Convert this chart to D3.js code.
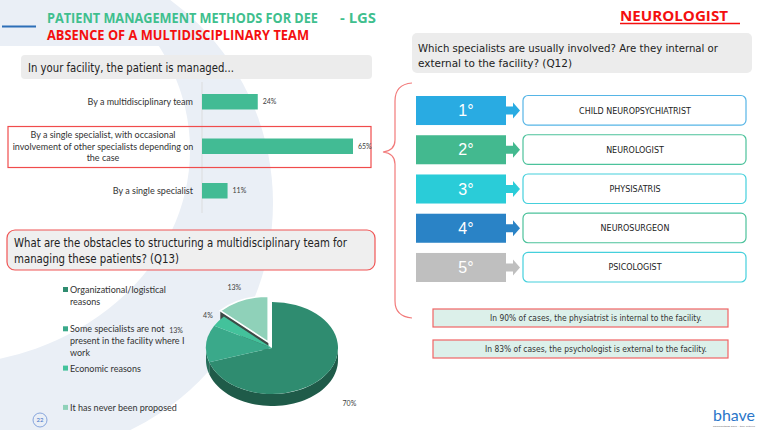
<!DOCTYPE html>
<html>
<head>
<meta charset="utf-8">
<script src="https://cdn.jsdelivr.net/npm/d3@7"></script>
<style>
  body { margin: 0; background: #fff; }
  svg { display: block; }
</style>
</head>
<body>
<svg id="chart" width="757" height="434"></svg>
<script>
// ---- data ----
const barCategories = [
  ["By a multidisciplinary team"],
  ["By a single specialist, with occasional", "involvement of other specialists depending on", "the case"],
  ["By a single specialist"]
];
const barValues = [0.24, 0.65, 0.11];

const pieCategories = [
  ["Organizational/logistical", "reasons"],
  ["Some specialists are not", "present in the facility where I", "work"],
  ["Economic reasons"],
  ["It has never been proposed"]
];
const pieValues = [0.70, 0.13, 0.04, 0.13];

const rankLabels = ["1°", "2°", "3°", "4°", "5°"];
const specialists = ["CHILD NEUROPSYCHIATRIST", "NEUROLOGIST", "PHYSISATRIS", "NEUROSURGEON", "PSICOLOGIST"];

const notes = [
  "In 90% of cases, the physiatrist is internal to the facility.",
  "In 83% of cases, the psychologist is external to the facility."
];

// ---- colours ----
const barColor = "#42bb94";
const pieColors = ["#2f8c70", "#3aa98a", "#43c29b", "#8fd1b9"];
const rankFill = ["#29abe2", "#43b98f", "#2accd8", "#2a83c6", "#bfbfbf"];
const rankStroke = ["#56b5e6", "#4cc29b", "#45d0dc", "#4cc29b", "#45d0dc"];

const svg = d3.select("#chart");
const qFont = "'DejaVu Sans', sans-serif";
const bodyFont = "Lato, 'Open Sans', sans-serif";
const headFont = "'Open Sans', sans-serif";

// background crescent
const bg = svg.append("g");
bg.append("clipPath").attr("id", "bgclip")
  .append("rect").attr("x", 0).attr("y", 0).attr("width", 757).attr("height", 430);
const outer = d3.path();
outer.arc(21, 203, 252, 0, Math.PI * 2);
outer.closePath();
bg.append("path")
  .attr("clip-path", "url(#bgclip)")
  .attr("d", outer.toString())
  .attr("fill", "#eaeff6");
bg.append("ellipse")
  .attr("clip-path", "url(#bgclip)")
  .attr("cx", -60).attr("cy", 150).attr("rx", 250).attr("ry", 215)
  .attr("fill", "#fff");
bg.append("rect").attr("x", 0).attr("y", 0).attr("width", 160).attr("height", 46).attr("fill", "#eaeff6");

function txt(g, x, y, s, size, opts = {}) {
  const t = g.append("text")
    .attr("x", x).attr("y", y)
    .attr("font-family", opts.font || bodyFont)
    .attr("font-size", size)
    .attr("font-weight", opts.weight || 400)
    .attr("fill", opts.fill || "#333")
    .attr("text-anchor", opts.anchor || "start")
    .text(s);
  if (opts.width) t.attr("textLength", opts.width).attr("lengthAdjust", "spacingAndGlyphs");
  return t;
}

// ---- header ----
svg.append("line").attr("x1", 2).attr("x2", 36).attr("y1", 26.5).attr("y2", 26.5)
  .attr("stroke", "#2d6fb7").attr("stroke-width", 2);
txt(svg, 47, 23, "PATIENT MANAGEMENT METHODS FOR DEE", 13.5, { font: headFont, weight: 700, fill: "#3fbf8e", width: 271 });
txt(svg, 340, 23, "- LGS", 13.5, { font: headFont, weight: 700, fill: "#3fbf8e", width: 36 });
txt(svg, 47, 40, "ABSENCE OF A MULTIDISCIPLINARY TEAM", 13.5, { font: headFont, weight: 700, fill: "#f40f0f", width: 262 });

txt(svg, 620, 21, "NEUROLOGIST", 14, { font: headFont, weight: 700, fill: "#f40f0f", width: 108 });
svg.append("line").attr("x1", 620).attr("x2", 740).attr("y1", 23.5).attr("y2", 23.5)
  .attr("stroke", "#f40f0f").attr("stroke-width", 1.4);

// ---- question boxes ----
svg.append("rect").attr("x", 21).attr("y", 55).attr("width", 351).attr("height", 24).attr("rx", 4)
  .attr("fill", "#ececec");
txt(svg, 28, 72, "In your facility, the patient is managed...", 11.5, { font: qFont, fill: "#222", width: 206 });

svg.append("rect").attr("x", 412).attr("y", 33).attr("width", 340).attr("height", 40).attr("rx", 5)
  .attr("fill", "#ececec");
txt(svg, 418, 52, "Which specialists are usually involved? Are they internal or", 11, { font: qFont, fill: "#222", width: 300 });
txt(svg, 418, 67, "external to the facility? (Q12)", 11, { font: qFont, fill: "#222", width: 154 });

svg.append("rect").attr("x", 7).attr("y", 230).attr("width", 368).attr("height", 40).attr("rx", 8)
  .attr("fill", "#efefef").attr("stroke", "#f05555").attr("stroke-width", 1.2);
txt(svg, 14, 247, "What are the obstacles to structuring a multidisciplinary team for", 12, { font: qFont, fill: "#222", width: 333 });
txt(svg, 14, 262.5, "managing these patients? (Q13)", 12, { font: qFont, fill: "#222", width: 165 });

// ---- bar chart ----
const x = d3.scaleLinear().domain([0, 1]).range([202, 202 + 232.3]);
const y = d3.scaleBand().domain(d3.range(barValues.length)).range([71.75, 220.75])
  .paddingInner(0.652).paddingOuter(0.5);

svg.append("line").attr("x1", 202).attr("x2", 202).attr("y1", 82).attr("y2", 213)
  .attr("stroke", "#d9d9d9").attr("stroke-width", 0.8);

// highlight frame around the middle category
svg.append("rect").attr("x", 8).attr("y", y(1) - 12).attr("width", 363).attr("height", 41)
  .attr("fill", "none").attr("stroke", "#f04c4c").attr("stroke-width", 1.2);

const bars = svg.append("g");
bars.selectAll("rect").data(barValues).join("rect")
  .attr("x", x(0))
  .attr("y", (d, i) => y(i))
  .attr("width", d => x(d) - x(0))
  .attr("height", y.bandwidth())
  .attr("fill", barColor);

bars.selectAll("text.val").data(barValues).join("text")
  .attr("class", "val")
  .attr("x", d => x(d) + 5)
  .attr("y", (d, i) => y(i) + y.bandwidth() / 2 + 2.5)
  .attr("font-family", bodyFont).attr("font-size", 7).attr("fill", "#404040")
  .text(d => Math.round(d * 100) + "%");

barCategories.forEach((lines, i) => {
  const cy = y(i) + y.bandwidth() / 2;
  const lh = 11.5;
  lines.forEach((l, j) => {
    const yy = cy + 3.3 + (j - (lines.length - 1) / 2) * lh;
    if (lines.length === 1) txt(svg, 193, yy, l, 9, { anchor: "end", fill: "#333" });
    else txt(svg, 103, yy, l, 9, { anchor: "middle", fill: "#333" });
  });
});

// ---- 3D pie ----
const cx = 272, cy = 348, rx = 66, ry = 46, depth = 12;
const pie = d3.pie().sort(null).value(d => d)(pieValues);
const explode = [0, 0, 0, 9];
const off = pie.map((p, i) => {
  const m = (p.startAngle + p.endAngle) / 2;
  return [Math.sin(m) * explode[i], -Math.cos(m) * explode[i] * 0.7];
});
const ept = (a, dx, dy, dz = 0) => [cx + dx + rx * Math.sin(a), cy + dy - ry * Math.cos(a) + dz];

const pieG = svg.append("g");
// side walls (front half only)
pie.forEach((p, i) => {
  const a0 = Math.max(p.startAngle, Math.PI / 2), a1 = Math.min(p.endAngle, Math.PI * 1.5);
  if (a0 >= a1) return;
  const n = 48;
  const top = d3.range(n + 1).map(k => ept(a0 + (a1 - a0) * k / n, off[i][0], off[i][1]));
  const bot = top.slice().reverse().map(q => [q[0], q[1] + depth]);
  pieG.append("path")
    .attr("d", d3.line()(top.concat(bot)) + "Z")
    .attr("fill", d3.color(pieColors[i]).darker(1.2));
});
// radial face of the exploded slice
pie.forEach((p, i) => {
  if (!explode[i]) return;
  const c0 = [cx + off[i][0], cy + off[i][1]];
  const r0 = ept(p.startAngle, off[i][0], off[i][1]);
  pieG.append("path")
    .attr("d", d3.line()([c0, r0, [r0[0], r0[1] + depth], [c0[0], c0[1] + depth]]) + "Z")
    .attr("fill", "#3d4a46");
});
// top faces
const arc = d3.arc().innerRadius(0).outerRadius(1);
pie.forEach((p, i) => {
  pieG.append("path")
    .attr("transform", `translate(${cx + off[i][0]},${cy + off[i][1]}) scale(${rx},${ry})`)
    .attr("d", arc(p))
    .attr("fill", pieColors[i])
    .attr("stroke", explode[i] ? "#fff" : "none")
    .attr("stroke-width", explode[i] ? 2 / rx : 0);
});
// slice labels (placed like the original, radially outside the rim)
const labelK = [1.45, 1.46, 1.2, 1.3];
const labelDy = [4, -11, 0, 0];
pie.forEach((p, i) => {
  const m = (p.startAngle + p.endAngle) / 2;
  const k = labelK[i];
  const lx = cx + off[i][0] + rx * k * Math.sin(m);
  const ly = cy + off[i][1] - ry * k * Math.cos(m) + (Math.cos(m) < 0 ? depth : 0) + labelDy[i];
  txt(pieG, lx, ly + 2.5, Math.round(p.data * 100) + "%", 7, { anchor: "middle", fill: "#404040" });
});

// legend
const leg = svg.append("g");
pieCategories.forEach((lines, i) => {
  const ly = 293 + i * 39.3;
  leg.append("rect").attr("x", 63).attr("y", ly - 6).attr("width", 5).attr("height", 5).attr("fill", pieColors[i]);
  lines.forEach((l, j) => txt(leg, 70, ly + j * 11.8, l, 9, { fill: "#333" }));
});

// page number
svg.append("circle").attr("cx", 40).attr("cy", 420).attr("r", 7).attr("fill", "none")
  .attr("stroke", "#6f93d6").attr("stroke-width", 0.8);
txt(svg, 40, 422, "22", 6, { anchor: "middle", fill: "#3f6fc6" });

// ---- ranking of specialists ----
const ry2 = d3.scaleBand().domain(rankLabels).range([96, 282]).paddingInner(0.26).paddingOuter(0);
const bw = ry2.bandwidth();
const rank = svg.append("g");
rankLabels.forEach((r, i) => {
  const top = ry2(r), mid = top + bw / 2;
  rank.append("rect").attr("x", 416).attr("y", top).attr("width", 90).attr("height", bw).attr("fill", rankFill[i]);
  rank.append("path")
    .attr("d", d3.line()([[506, mid - 4], [513, mid - 4], [513, mid - 8], [520, mid], [513, mid + 8], [513, mid + 4], [506, mid + 4]]) + "Z")
    .attr("fill", rankFill[i]);
  txt(rank, 466, mid + 5.5, r, 16, { font: "'Liberation Sans', Arial, sans-serif", anchor: "middle", fill: "#fff" });
  rank.append("rect").attr("x", 523).attr("y", top - 0.5).attr("width", 223).attr("height", bw + 0.5).attr("rx", 5)
    .attr("fill", "#fff").attr("stroke", rankStroke[i]).attr("stroke-width", 1.2);
  txt(rank, 635, mid + 3, specialists[i], 8, { font: qFont, anchor: "middle", fill: "#222" });
});

// curly brace
svg.append("path")
  .attr("d", "M412,83 C399,84 395,91 395,101 L395,140 C395,147 391,151 383,152 C391,153 395,157 395,164 L395,301 C395,311 401,317 412,318")
  .attr("fill", "none").attr("stroke", "#f27a7a").attr("stroke-width", 1.2);

// notes
notes.forEach((n, i) => {
  const top = 309 + i * 31;
  svg.append("rect").attr("x", 433).attr("y", top).attr("width", 295).attr("height", 18)
    .attr("fill", "#dcf0ea").attr("stroke", "#f06464").attr("stroke-width", 1.2);
  txt(svg, 596, top + 12.3, n, 8.5, { font: qFont, anchor: "middle", fill: "#333", width: i ? 222 : 212 });
});

// logo
txt(svg, 713, 421, "bhave", 15, { font: "Lato, sans-serif", weight: 400, fill: "#2a76c9", width: 42 });
txt(svg, 713, 426.5, "connecting care · the future", 2.6, { fill: "#777", width: 42 });
</script>
</body>
</html>
